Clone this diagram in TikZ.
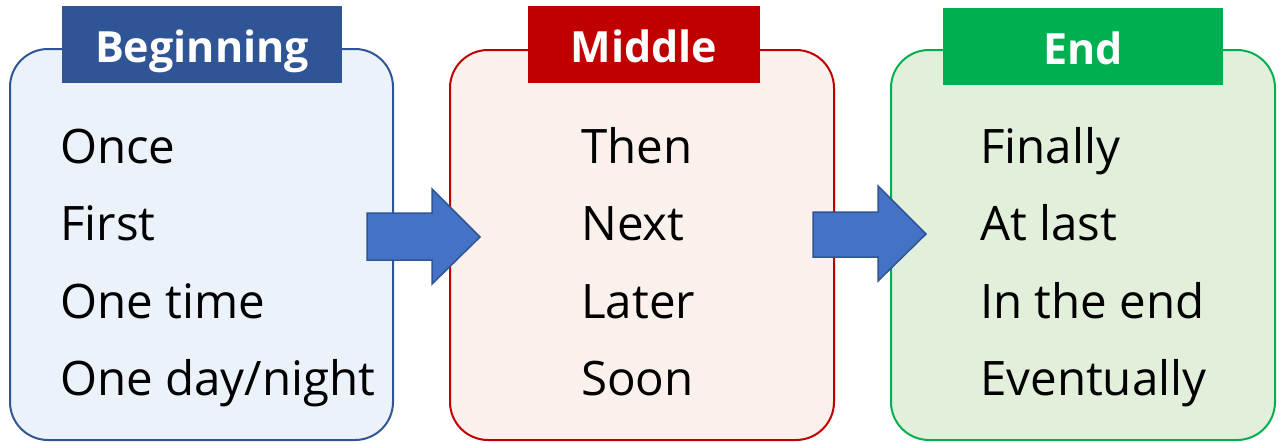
\documentclass[tikz,border=0pt]{standalone}
\usepackage{fontspec}
\setmainfont{Open Sans}
\definecolor{bblue}{HTML}{2F5597}
\definecolor{bred}{HTML}{C00000}
\definecolor{bgreen}{HTML}{00B050}
\definecolor{fblue}{HTML}{EBF2FA}
\definecolor{fred}{HTML}{FBF1EC}
\definecolor{fgreen}{HTML}{E2EFDA}
\definecolor{arrfill}{HTML}{4472C4}
\tikzset{
  panel/.style={draw=#1, line width=2pt, rounded corners=38pt, inner sep=0pt},
  titlebox/.style={fill=#1, inner sep=0pt, minimum height=77pt},
  titletext/.style={text=white, font=\fontsize{43}{50}\selectfont\bfseries, anchor=base, inner sep=0pt},
  item/.style={text=black, font=\fontsize{47.5}{52}\selectfont, anchor=base west, inner sep=0pt},
  bigarrow/.style={fill=arrfill, draw=bblue, line width=1.5pt, line join=miter}
}
\begin{document}
\begin{tikzpicture}[x=1pt,y=-1pt]
\useasboundingbox (0,0) rectangle (1283,442);
% panels
\node[panel=bblue, fill=fblue, minimum width=383pt, minimum height=391pt] (p1) at (201.5,244.5) {};
\node[panel=bred, fill=fred, minimum width=384pt, minimum height=390pt] (p2) at (642,245) {};
\node[panel=bgreen, fill=fgreen, minimum width=384pt, minimum height=390pt] (p3) at (1083,245) {};
% titles
\node[titlebox=bblue, minimum width=280pt] (t1) at (202,44.5) {};
\node[titlebox=bred, minimum width=232pt] (t2) at (644,44.5) {};
\node[titlebox=bgreen, minimum width=280pt] (t3) at (1083,46.5) {};
\node[titletext] (tt1) at (202,62) {Beginning};
\node[titletext] (tt2) at (644,62) {Middle};
\node[titletext] (tt3) at (1083,64) {End};
% arrows
\draw[bigarrow] (367,213) -- (432,213) -- (432,189) -- (480,237) -- (432,284) -- (432,260) -- (367,260) -- cycle;
\draw[bigarrow] (813,212) -- (878,212) -- (878,186) -- (926,234) -- (878,281) -- (878,257) -- (813,257) -- cycle;
% items
\node[item] (a1) at (60,163) {Once};
\node[item] (a2) at (60,240.5) {First};
\node[item] (a3) at (60,318) {One time};
\node[item] (a4) at (60,395) {One day/night};
\node[item] (b1) at (581,163) {Then};
\node[item] (b2) at (581,240.5) {Next};
\node[item] (b3) at (581,318) {Later};
\node[item] (b4) at (581,395) {Soon};
\node[item] (c1) at (980,163) {Finally};
\node[item] (c2) at (980,240.5) {At last};
\node[item] (c3) at (980,318) {In the end};
\node[item] (c4) at (980,395) {Eventually};
\end{tikzpicture}
\end{document}
